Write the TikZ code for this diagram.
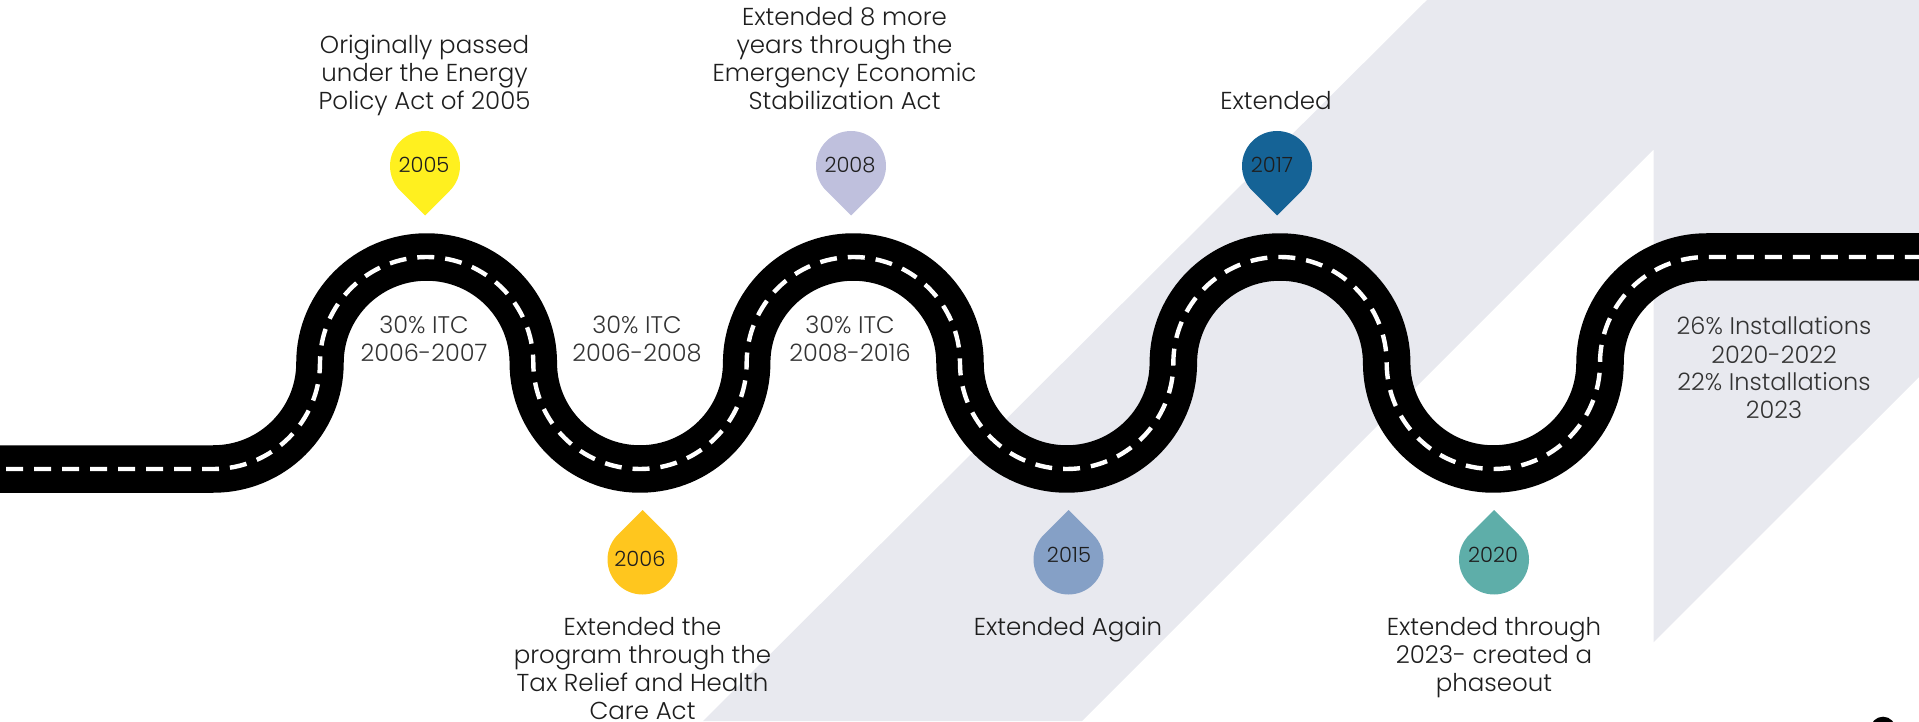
\documentclass[tikz,border=0pt]{standalone}
\usepackage{fontspec}
\setmainfont{Poppins Light}
\definecolor{bandgray}{HTML}{E8E9EF}
\definecolor{inkdark}{HTML}{1E1E1E}
\definecolor{inkitc}{HTML}{333333}
\definecolor{pinA}{HTML}{FFF01F}
\definecolor{pinB}{HTML}{FFC61E}
\definecolor{pinC}{HTML}{BFC0DD}
\definecolor{pinD}{HTML}{85A0C6}
\definecolor{pinE}{HTML}{156396}
\definecolor{pinF}{HTML}{5EAEA9}
\newcommand{\ls}{\rule[-8pt]{0pt}{28pt}}
\newcommand{\pindown}[5]{%
  \fill[#4] (#1,721-#2-49.5) -- (#1-24.75,721-#2-24.75) arc[start angle=225,end angle=-45,radius=35] -- cycle;
  \node[yearlabel] (#3) at (#5,721-#2+1) {#3};}
\newcommand{\pinup}[5]{%
  \fill[#4] (#1,721-#2+49.5) -- (#1+24.75,721-#2+24.75) arc[start angle=45,end angle=-225,radius=35] -- cycle;
  \node[yearlabel] (#3) at (#1+#5) {#3};}
\begin{document}
\begin{tikzpicture}[x=1pt,y=1pt,
  caption/.style={font=\fontsize{24.5}{28}\selectfont,text=inkdark,align=center,inner sep=0pt},
  itc/.style={font=\fontsize{24}{28}\selectfont,text=inkitc,align=center,inner sep=0pt},
  yearlabel/.style={font=\fontsize{21}{21}\selectfont,text=inkdark,inner sep=0pt},
  roadline/.style={line join=round}]
\useasboundingbox (0,0) rectangle (1919,721);
\clip (0,0) rectangle (1919,721);
% background bands
\fill[bandgray] (1427,721) -- (1919,721) -- (1919,344) -- (1653.6,78.7) -- (1653.6,571.6) -- (1082,0) -- (703,0) -- cycle;
% road
\def\roadpath{(-10,252) -- (213.3,252)
  arc[start angle=-90,end angle=0,x radius=106.67,y radius=106]
  arc[start angle=180,end angle=0,x radius=106.67,y radius=106]
  arc[start angle=180,end angle=360,x radius=106.67,y radius=106]
  arc[start angle=180,end angle=0,x radius=106.67,y radius=106]
  arc[start angle=180,end angle=360,x radius=106.67,y radius=106]
  arc[start angle=180,end angle=0,x radius=106.67,y radius=106]
  arc[start angle=180,end angle=360,x radius=106.67,y radius=106]
  arc[start angle=180,end angle=90,x radius=106.67,y radius=106]
  -- (1930,464)}
\draw[black,line width=47.5pt,roadline] \roadpath;
\draw[white,line width=4.4pt,roadline,dash pattern=on 17pt off 11pt,dash phase=12pt] \roadpath;
% pins
\pindown{425}{166}{2005}{pinA}{424}
\pindown{851}{166}{2008}{pinC}{850}
\pindown{1277}{166}{2017}{pinE}{1272}
\pinup{642.5}{559.5}{2006}{pinB}{-2.5,162.5}
\pinup{1068.5}{559.5}{2015}{pinD}{0.5,166.5}
\pinup{1494}{559.5}{2020}{pinF}{-1,166}
% captions
\node[caption] (capA) at (424.5,721-75.5) {\ls Originally passed\\\ls under the Energy\\\ls Policy Act of 2005};
\node[caption] (capC) at (844.5,721-61.5) {\ls Extended 8 more\\\ls years through the\\\ls Emergency Economic\\\ls Stabilization Act};
\node[caption] (capE) at (1276,721-103.5) {\ls Extended};
\node[caption] (capB) at (642.5,721-667.5) {\ls Extended the\\\ls program through the\\\ls Tax Relief and Health\\Care Act};
\node[caption] (capD) at (1068,721-629.5) {\ls Extended Again};
\node[caption] (capF) at (1494,721-657.5) {\ls Extended through\\\ls 2023- created a\\\ls phaseout};
% rate labels
\node[itc] (itcA) at (424,721-342) {\ls 30\% ITC\\\ls 2006-2007};
\node[itc] (itcB) at (637,721-342) {\ls 30\% ITC\\\ls 2006-2008};
\node[itc] (itcC) at (850,721-342) {\ls 30\% ITC\\\ls 2008-2016};
\node[itc] (itcD) at (1774,721-371) {\ls 26\% Installations\\\ls 2020-2022\\\ls 22\% Installations\\\ls 2023};
% corner dot
\fill[black] (1883,-8.3) circle[radius=12.6];
\end{tikzpicture}
\end{document}
